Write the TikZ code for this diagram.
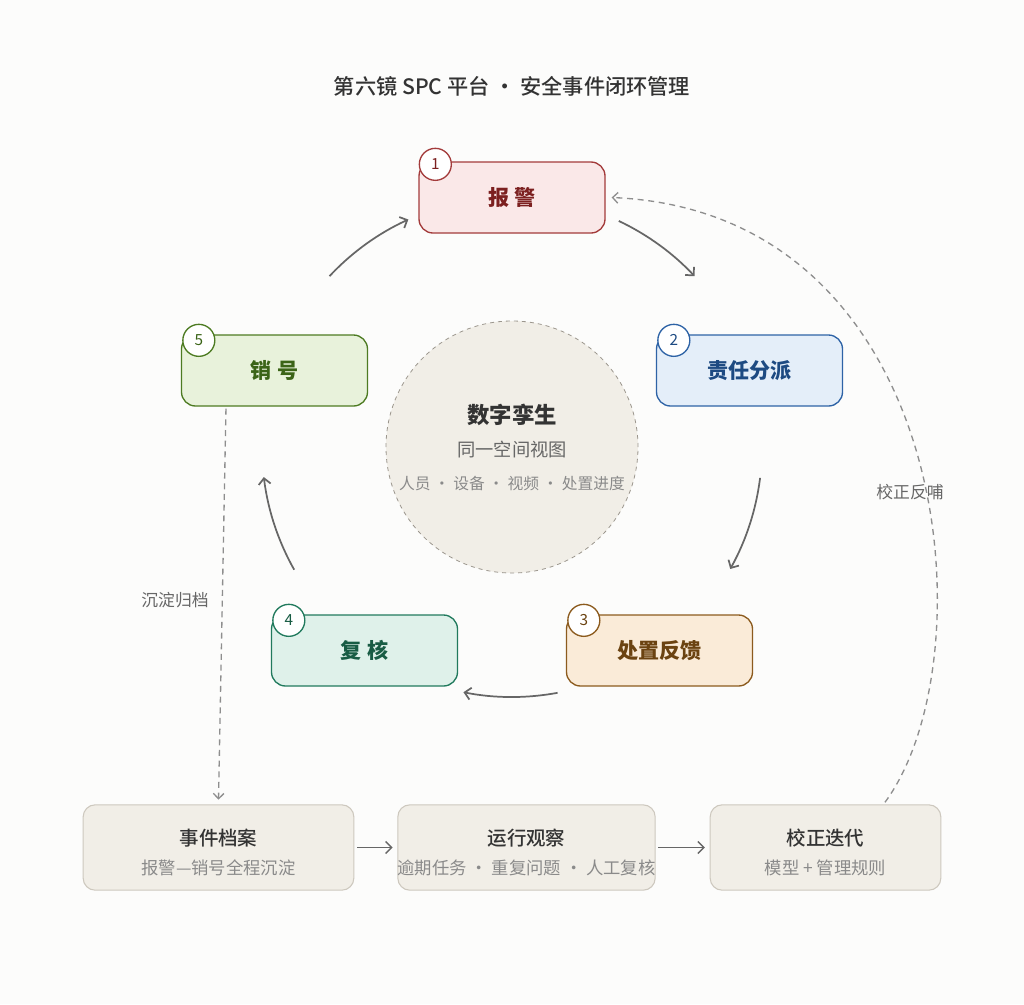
\documentclass[tikz,border=0pt]{standalone}
\usepackage{fontspec}
\setmainfont{Noto Sans CJK SC}
\newfontfamily\medfont{Noto Sans CJK SC Medium}
\usetikzlibrary{arrows.meta,calc}

\definecolor{bgcol}{HTML}{FCFCFB}
\definecolor{ink}{HTML}{333333}
\definecolor{midgray}{HTML}{666666}
\definecolor{softgray}{HTML}{8A8A8A}
\definecolor{dashgray}{HTML}{8E8E8E}
\definecolor{alarmline}{HTML}{A33B3B}
\definecolor{alarmfill}{HTML}{FAE8E8}
\definecolor{alarmtext}{HTML}{7C2020}
\definecolor{displine}{HTML}{2E63A6}
\definecolor{dispfill}{HTML}{E4EEF9}
\definecolor{disptext}{HTML}{1D4A82}
\definecolor{feedline}{HTML}{8C5B1E}
\definecolor{feedfill}{HTML}{FAEBD8}
\definecolor{feedtext}{HTML}{6B4311}
\definecolor{revline}{HTML}{217A5D}
\definecolor{revfill}{HTML}{DFF1EA}
\definecolor{revtext}{HTML}{185C44}
\definecolor{retline}{HTML}{4D7B22}
\definecolor{retfill}{HTML}{E8F2DB}
\definecolor{rettext}{HTML}{3B6417}
\definecolor{hubfill}{HTML}{F1EEE7}
\definecolor{hubline}{HTML}{9B968D}
\definecolor{basefill}{HTML}{F1EEE7}
\definecolor{baseline}{HTML}{CDC8BE}

\begin{document}
\begin{tikzpicture}[x=0.75pt,y=-0.75pt,
  stage/.style={rounded corners=10.5pt, draw, line width=1pt, minimum width=139.5pt, minimum height=53.25pt, inner sep=0pt, font=\bfseries\fontsize{15.8}{18}\selectfont},
  badge/.style={circle, draw, fill=white, line width=1pt, minimum size=24pt, inner sep=0pt, font=\fontsize{11.5}{13}\selectfont},
  base/.style={rounded corners=9pt, draw=baseline, fill=basefill, line width=0.8pt, minimum height=64pt, inner sep=0pt},
  basetitle/.style={text=ink, font=\medfont\fontsize{14.6}{17}\selectfont},
  basesub/.style={text=softgray, font=\fontsize{13}{15}\selectfont},
  note/.style={text=midgray, font=\fontsize{12.6}{15}\selectfont},
  flow/.style={draw=midgray, line width=1.3pt, -{Straight Barb[length=4.5pt,width=9pt]}},
  dashflow/.style={draw=dashgray, line width=1pt, dash pattern=on 4.5pt off 3.5pt, -{Straight Barb[length=4pt,width=8pt]}}]
\useasboundingbox[fill=bgcol] (0,0) rectangle (1024,1004);

% title
\node[text=ink, font=\medfont\fontsize{15.9}{19}\selectfont] (title) at (512,86) {第六镜 SPC 平台 · 安全事件闭环管理};

% hub
\node[circle, draw=hubline, fill=hubfill, dashed, line width=0.6pt, minimum size=189pt, inner sep=0pt] (hub) at (512,447) {};
\node[text=ink, font=\bfseries\fontsize{16.8}{19}\selectfont] (hubtitle) at (512,415) {数字孪生};
\node[text=midgray, font=\fontsize{13.7}{16}\selectfont] (hubsub) at (512,450) {同一空间视图};
\node[text=softgray, font=\fontsize{11.8}{14}\selectfont] (hubitems) at (512,484) {人员 · 设备 · 视频 · 处置进度};

% stages
\node[stage, draw=alarmline, fill=alarmfill, text=alarmtext] (alarm) at (512,197.5) {报\hspace{0.27em}警};
\node[stage, draw=displine, fill=dispfill, text=disptext] (dispatch) at (749.5,370.5) {责任分派};
\node[stage, draw=feedline, fill=feedfill, text=feedtext] (feedback) at (659.5,650.5) {处置反馈};
\node[stage, draw=revline, fill=revfill, text=revtext] (review) at (364.5,650.5) {复\hspace{0.27em}核};
\node[stage, draw=retline, fill=retfill, text=rettext] (retire) at (274.5,370.5) {销\hspace{0.27em}号};

\node[badge, draw=alarmline, text=alarmtext] (b1) at ([shift={(17,3)}]alarm.north west) {1};
\node[badge, draw=displine, text=disptext] (b2) at ([shift={(18,6)}]dispatch.north west) {2};
\node[badge, draw=feedline, text=feedtext] (b3) at ([shift={(18,6)}]feedback.north west) {3};
\node[badge, draw=revline, text=revtext] (b4) at ([shift={(18,6)}]review.north west) {4};
\node[badge, draw=retline, text=rettext] (b5) at ([shift={(18,6)}]retire.north west) {5};

% loop
\draw[flow] ($(hub.center)+(295.3:250)$) arc[start angle=295.3, end angle=316.9, radius=250];
\draw[flow] ($(hub.center)+(7.1:250)$) arc[start angle=7.1, end angle=29.2, radius=250];
\draw[flow] ($(hub.center)+(79.5:250)$) arc[start angle=79.5, end angle=101.2, radius=250];
\draw[flow] ($(hub.center)+(150.6:250)$) arc[start angle=150.6, end angle=173.1, radius=250];
\draw[flow] ($(hub.center)+(223.1:250)$) arc[start angle=223.1, end angle=245.5, radius=250];

% bottom row
\node[base, minimum width=203pt] (archive) at (218.5,847.5) {};
\node[base, minimum width=193pt] (observe) at (526.5,847.5) {};
\node[base, minimum width=173pt] (iterate) at (825.5,847.5) {};
\node[basetitle] (archivet) at (218.5,838) {事件档案};
\node[basesub] (archives) at (218.5,868) {报警—销号全程沉淀};
\node[basetitle] (observet) at (526.5,838) {运行观察};
\node[basesub] (observes) at (526.5,868) {逾期任务 · 重复问题 · 人工复核};
\node[basetitle] (iteratet) at (825.5,838) {校正迭代};
\node[basesub] (iterates) at (825.5,868) {模型 + 管理规则};

\draw[flow, line width=1.1pt, shorten <=2pt, shorten >=3.5pt] (archive) -- (observe);
\draw[flow, line width=1.1pt, shorten <=2pt, shorten >=3.5pt] (observe) -- (iterate);

% archive and feedback
\draw[dashflow] ([xshift=-36.4pt,yshift=-1.5pt]retire.south) -- ([yshift=3.5pt]archive.north);
\node[note] (archnote) at (175,600) {沉淀归档};
\draw[dashflow] ([xshift=44.6pt,yshift=1.5pt]iterate.north) .. controls (990,660) and (955,212) .. ([xshift=4.5pt]alarm.east);
\node[note] (feednote) at (910,492) {校正反哺};
\end{tikzpicture}
\end{document}
